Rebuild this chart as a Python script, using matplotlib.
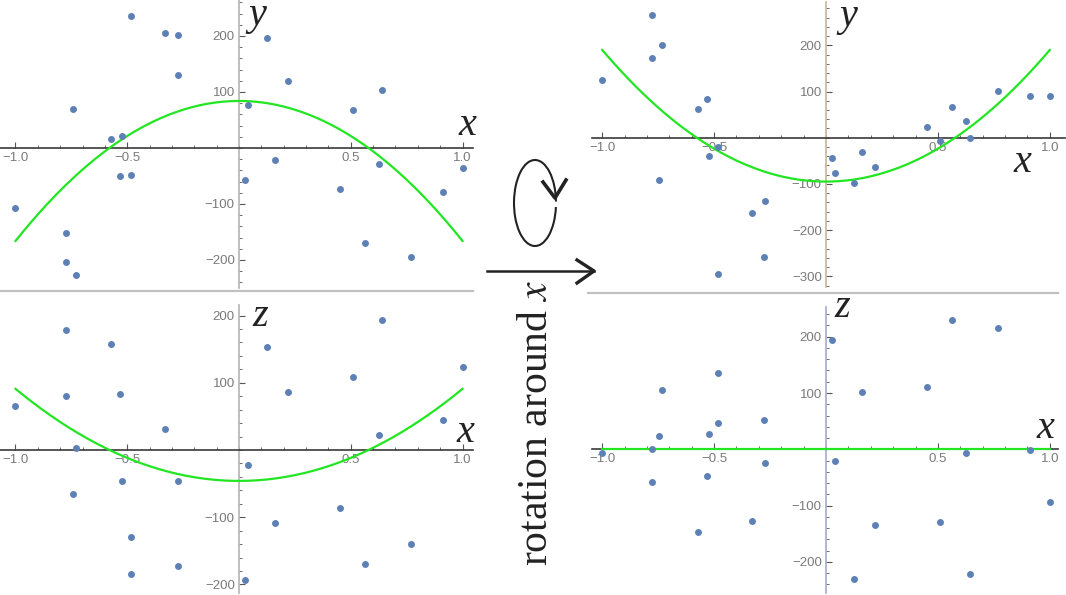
import matplotlib
matplotlib.use("Agg")
import matplotlib.pyplot as plt
from matplotlib.patches import Arc
from matplotlib.lines import Line2D
import numpy as np

W, H = 1066, 595

# shared x positions of the points (same samples in all four panels)
x_pts = [-1.0, -0.776, -0.776, -0.744, -0.731, -0.573, -0.532, -0.523, -0.483, -0.483,
         -0.330, -0.275, -0.272, 0.025, 0.039, 0.127, 0.160, 0.218, 0.451, 0.508,
         0.565, 0.625, 0.642, 0.769, 0.913, 1.0]
# before rotation
y_before = [-108, -151, -204, 69, -226, 16, -50, 21, 236, -48,
            206, 201, 131, -58, 76, 196, -21, 120, -74, 68,
            -170, -29, 104, -194, -79, -36]
z_before = [66, 178, 80, -66, 3, 157, 83, -46, -129, -184,
            31, -172, -46, -193, -22, 154, -108, 86, -86, 108,
            -170, 22, 193, -140, 45, 124]
# after rotation around x
y_after = [125, 265, 172, -92, 200, 62, 83, -40, -20, -296,
           -164, -259, -137, -43, -77, -98, -32, -64, 23, -8,
           67, 36, 0, 102, 91, 91]
z_after = [-7, 1, -58, 23, 105, -147, -48, 28, 135, 46,
           -128, 52, -25, 195, -20, -231, 102, -135, 110, -130,
           229, -7, -221, 215, -2, -93]

# fitted parabolas c0 + c2*x^2
fit_y_before = (84, -250)
fit_z_before = (-46, 137)
fit_y_after = (-95, 285)
fit_z_after = (0, 0)

x_ticks = [-1.0, -0.5, 0.5, 1.0]
x_ticklabels = ["\u22121.0", "\u22120.5", "0.5", "1.0"]

dot_color = "#5e81b5"
fit_color = "#22e622"

fig = plt.figure(figsize=(W / 100, H / 100), dpi=100)


def panel(left, top, right, bottom, xlim, ylim, yticks, ycolor):
    ax = fig.add_axes([left / W, 1 - bottom / H, (right - left) / W, (bottom - top) / H])
    ax.set_xlim(*xlim)
    ax.set_ylim(*ylim)
    ax.patch.set_alpha(0)
    for s in ["top", "right"]:
        ax.spines[s].set_visible(False)
    ax.spines["left"].set_position("zero")
    ax.spines["bottom"].set_position("zero")
    ax.spines["left"].set_color(ycolor)
    ax.spines["left"].set_linewidth(1.2)
    ax.spines["bottom"].set_color("#3a3a3a")
    ax.spines["bottom"].set_linewidth(1.2)
    ax.set_xticks(x_ticks)
    ax.set_xticklabels(x_ticklabels)
    ax.set_xticks(np.arange(-1.0, 1.01, 0.1), minor=True)
    ax.set_yticks(yticks)
    ax.set_yticklabels([str(v).replace("-", "\u2212") for v in yticks])
    lo = int(np.ceil(ylim[0] / 20.0)) * 20
    ax.set_yticks(np.arange(lo, ylim[1], 20), minor=True)
    ax.tick_params(which="both", direction="in", colors="#555555", labelcolor="#7a7a7a",
                   labelsize=9.5, pad=3)
    ax.tick_params(which="major", length=4, width=0.8)
    ax.tick_params(which="minor", length=2.5, width=0.6)
    for t in ax.get_xticklabels() + ax.get_yticklabels():
        t.set_family("Liberation Sans")
    return ax


def label(px, py, s):
    fig.text(px / W, 1 - py / H, s, ha="center", va="baseline", fontsize=29,
             family="Liberation Serif", style="italic", color="#222222")


def draw(ax, vals, fit):
    xs = np.linspace(-1, 1, 200)
    ax.plot(xs, fit[0] + fit[1] * xs ** 2, color=fit_color, lw=1.6, zorder=3)
    ax.scatter(x_pts, vals, s=25, color=dot_color, zorder=4, linewidths=0)


# top left
ax1 = panel(0, 0, 473, 288, (-239 / 223.5, 234 / 223.5), (-140 / 0.56, 148 / 0.56),
            [-200, -100, 100, 200], "#b4b4b4")
draw(ax1, y_before, fit_y_before)
label(467, 135, "x")
label(257, 25, "y")

# bottom left
ax2 = panel(0, 305, 473, 593, (-239 / 223.5, 234 / 223.5), (-143 / 0.672, 145 / 0.672),
            [-200, -100, 100, 200], "#b4b4b4")
draw(ax2, z_before, fit_z_before)
label(465, 442, "x")
label(260, 326, "z")

# top right
ax3 = panel(592, 2, 1065, 287, (-234 / 223.8, 239 / 223.8), (-149.3 / 0.462, 135.7 / 0.462),
            [-300, -200, -100, 100, 200], "#c8b68e")
draw(ax3, y_after, fit_y_after)
label(1022, 172, "x")
label(848, 26, "y")

# bottom right
ax4 = panel(592, 307, 1058, 593, (-234 / 223.8, 232 / 223.8), (-143.7 / 0.563, 142.3 / 0.563),
            [-200, -100, 100, 200], "#a3a8da")
draw(ax4, z_after, fit_z_after)
label(1045, 438, "x")
label(842, 317, "z")

# separators
fig.add_artist(Line2D([0, 473 / W], [1 - 291 / H] * 2, color="#c0c0c0", lw=1.6))
fig.add_artist(Line2D([588 / W, 1058 / W], [1 - 293 / H] * 2, color="#c0c0c0", lw=1.6))

# middle arrow and rotation symbol
fig.add_artist(Line2D([487 / W, 594 / W], [1 - 271 / H] * 2, color="#222222", lw=1.8))
fig.add_artist(Line2D([577 / W, 594 / W, 577 / W], [1 - 260 / H, 1 - 271 / H, 1 - 283 / H],
                      color="#222222", lw=2.4))
arc = Arc((535 / W, 1 - 203 / H), 42 / W, 86 / H, theta1=7, theta2=341,
          transform=fig.transFigure, color="#222222", lw=1.5)
fig.add_artist(arc)
fig.add_artist(Line2D([543 / W, 555 / W, 566 / W], [1 - 182 / H, 1 - 198 / H, 1 - 180 / H],
                      color="#222222", lw=2.6))

plt.rcParams["mathtext.fontset"] = "stix"
fig.text(547 / W, 1 - 423 / H, "rotation around $x$", rotation=90, rotation_mode="anchor",
         ha="center", va="baseline", fontsize=30, family="Liberation Serif", color="#222222")

fig.savefig("out.png", dpi=100)
